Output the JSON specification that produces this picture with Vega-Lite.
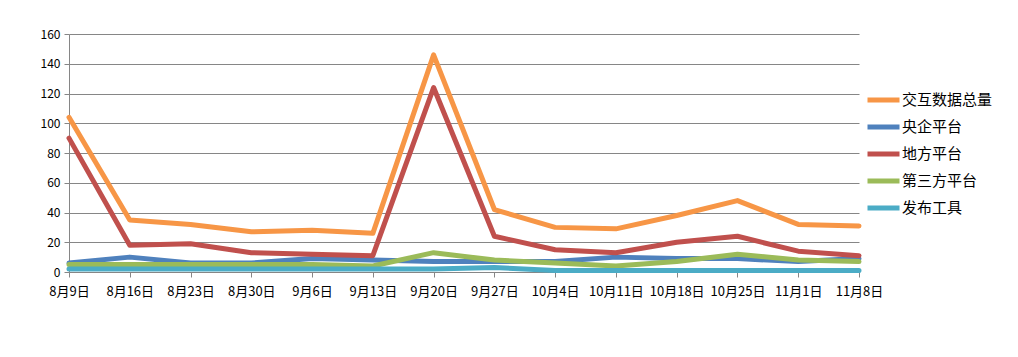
{
  "$schema": "https://vega.github.io/schema/vega-lite/v6.json",
  "width": 797,
  "height": 238,
  "autosize": {"type": "none"},
  "padding": {"left": 69, "top": 34, "right": 152, "bottom": 85},
  "background": "white",
  "config": {"view": {"stroke": null}, "font": "Noto Sans CJK SC"},
  "data": {"values": [
    {"d":"8月9日","s":"交互数据总量","v":104},{"d":"8月16日","s":"交互数据总量","v":35},{"d":"8月23日","s":"交互数据总量","v":32},{"d":"8月30日","s":"交互数据总量","v":27},{"d":"9月6日","s":"交互数据总量","v":28},{"d":"9月13日","s":"交互数据总量","v":26},{"d":"9月20日","s":"交互数据总量","v":146},{"d":"9月27日","s":"交互数据总量","v":42},{"d":"10月4日","s":"交互数据总量","v":30},{"d":"10月11日","s":"交互数据总量","v":29},{"d":"10月18日","s":"交互数据总量","v":38},{"d":"10月25日","s":"交互数据总量","v":48},{"d":"11月1日","s":"交互数据总量","v":32},{"d":"11月8日","s":"交互数据总量","v":31},
    {"d":"8月9日","s":"央企平台","v":6},{"d":"8月16日","s":"央企平台","v":10},{"d":"8月23日","s":"央企平台","v":6},{"d":"8月30日","s":"央企平台","v":6},{"d":"9月6日","s":"央企平台","v":9},{"d":"9月13日","s":"央企平台","v":8},{"d":"9月20日","s":"央企平台","v":7},{"d":"9月27日","s":"央企平台","v":7},{"d":"10月4日","s":"央企平台","v":7},{"d":"10月11日","s":"央企平台","v":10},{"d":"10月18日","s":"央企平台","v":9},{"d":"10月25日","s":"央企平台","v":9},{"d":"11月1日","s":"央企平台","v":7},{"d":"11月8日","s":"央企平台","v":9},
    {"d":"8月9日","s":"地方平台","v":90},{"d":"8月16日","s":"地方平台","v":18},{"d":"8月23日","s":"地方平台","v":19},{"d":"8月30日","s":"地方平台","v":13},{"d":"9月6日","s":"地方平台","v":12},{"d":"9月13日","s":"地方平台","v":11},{"d":"9月20日","s":"地方平台","v":124},{"d":"9月27日","s":"地方平台","v":24},{"d":"10月4日","s":"地方平台","v":15},{"d":"10月11日","s":"地方平台","v":13},{"d":"10月18日","s":"地方平台","v":20},{"d":"10月25日","s":"地方平台","v":24},{"d":"11月1日","s":"地方平台","v":14},{"d":"11月8日","s":"地方平台","v":11},
    {"d":"8月9日","s":"第三方平台","v":5},{"d":"8月16日","s":"第三方平台","v":5},{"d":"8月23日","s":"第三方平台","v":5},{"d":"8月30日","s":"第三方平台","v":5},{"d":"9月6日","s":"第三方平台","v":5},{"d":"9月13日","s":"第三方平台","v":4},{"d":"9月20日","s":"第三方平台","v":13},{"d":"9月27日","s":"第三方平台","v":8},{"d":"10月4日","s":"第三方平台","v":6},{"d":"10月11日","s":"第三方平台","v":4},{"d":"10月18日","s":"第三方平台","v":7},{"d":"10月25日","s":"第三方平台","v":12},{"d":"11月1日","s":"第三方平台","v":8},{"d":"11月8日","s":"第三方平台","v":7},
    {"d":"8月9日","s":"发布工具","v":2},{"d":"8月16日","s":"发布工具","v":2},{"d":"8月23日","s":"发布工具","v":2},{"d":"8月30日","s":"发布工具","v":2},{"d":"9月6日","s":"发布工具","v":2},{"d":"9月13日","s":"发布工具","v":2},{"d":"9月20日","s":"发布工具","v":2},{"d":"9月27日","s":"发布工具","v":3},{"d":"10月4日","s":"发布工具","v":1},{"d":"10月11日","s":"发布工具","v":1},{"d":"10月18日","s":"发布工具","v":1},{"d":"10月25日","s":"发布工具","v":1},{"d":"11月1日","s":"发布工具","v":1},{"d":"11月8日","s":"发布工具","v":1}
  ]},
  "mark": {"type": "line", "strokeWidth": 5, "strokeCap": "round", "strokeJoin": "round"},
  "encoding": {
    "x": {
      "field": "d", "type": "ordinal", "sort": null,
      "scale": {"type": "point", "padding": 0, "range": [0, 790]},
      "axis": {"title": null, "labelAngle": 0, "grid": false, "domainColor": "#868686", "tickColor": "#868686", "tickSize": 5, "labelFontSize": 13, "labelColor": "#000", "labelPadding": 8}
    },
    "y": {
      "field": "v", "type": "quantitative",
      "scale": {"domain": [0, 160], "nice": false},
      "axis": {"title": null, "values": [0,20,40,60,80,100,120,140,160], "gridColor": "#868686", "gridWidth": 1, "domainColor": "#868686", "tickColor": "#868686", "tickSize": 5, "labelFontSize": 12, "labelColor": "#000", "labelPadding": 4}
    },
    "color": {
      "field": "s", "type": "nominal",
      "scale": {"domain": ["交互数据总量","央企平台","地方平台","第三方平台","发布工具"], "range": ["#F79646","#4F81BD","#C0504D","#9BBB59","#4BACC6"]},
      "legend": {"title": null, "orient": "none", "legendX": 796, "legendY": 57, "padding": 0, "symbolType": "stroke", "symbolStrokeWidth": 5, "symbolSize": 1024, "clipHeight": 18, "labelFontSize": 15, "labelColor": "#000", "rowPadding": 9, "labelOffset": 0}
    }
  }
}
